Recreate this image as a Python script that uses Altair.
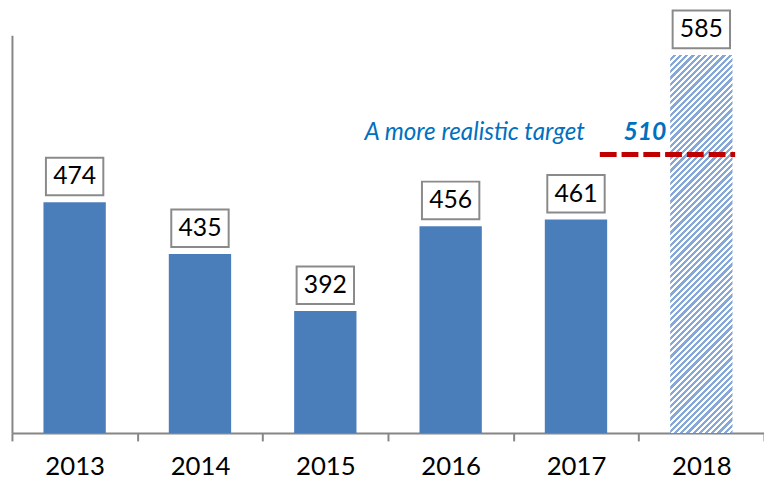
import math
import altair as alt
import pandas as pd

# ---- data ----
years = ["2013", "2014", "2015", "2016", "2017", "2018"]
values = [474, 435, 392, 456, 461, 585]
kinds = ["actual", "actual", "actual", "actual", "actual", "projected"]

target_value = 510
target_from = "2017"
target_to = "2018"
target_text = "A more realistic target"
target_label = "510"

df = pd.DataFrame({"year": years, "value": values, "kind": kinds})
tdf = pd.DataFrame({"start": [target_from], "end": [target_to], "target": [target_value]})

# ---- layout ----
W, H = 760, 402
Y_MIN, Y_MAX = 300, 600
BAR = 63
FONT = "Lato"

# hatch pattern for projected bar (diagonal stripes through a linear gradient)
proj_val = values[kinds.index("projected")]
bh = (proj_val - Y_MIN) / (Y_MAX - Y_MIN) * H
bw = BAR
t = (bw + bh) / (bw * bw + bh * bh)
x2g, y2g = t * bw, t * bh
n = max(1, round((bw + bh) / math.sqrt(2) / 4.4))
stops = []
for p in range(n):
    a = p / n
    b = (p + 0.5) / n
    c = (p + 1) / n
    stops += [
        alt.GradientStop(offset=a, color="#ffffff"),
        alt.GradientStop(offset=b, color="#ffffff"),
        alt.GradientStop(offset=b, color="#86a8d8"),
        alt.GradientStop(offset=c, color="#86a8d8"),
    ]
hatch = alt.LinearGradient(gradient="linear", stops=stops, x1=0, y1=0, x2=x2g, y2=y2g)

xscale = alt.Scale(domain=years, paddingInner=0, paddingOuter=0)
yscale = alt.Scale(domain=[Y_MIN, Y_MAX], zero=False, nice=False)

base = alt.Chart(df)

bars = base.transform_filter(alt.datum.kind == "actual").mark_bar(
    size=BAR, color="#4a7ebb"
).encode(
    x=alt.X("year:N", scale=xscale, title=None, sort=years),
    y=alt.Y("value:Q", scale=yscale, title=None),
    y2=alt.datum(Y_MIN),
)

proj = base.transform_filter(alt.datum.kind == "projected").mark_bar(
    size=BAR, color=hatch
).encode(
    x=alt.X("year:N", title=None, sort=years),
    y=alt.Y("value:Q", title=None),
    y2=alt.datum(Y_MIN),
)

boxes = base.mark_bar(
    size=58, fill="white", stroke="#8a8a8a", strokeWidth=2, yOffset=-7, y2Offset=-45
).encode(
    x=alt.X("year:N", title=None, sort=years),
    y=alt.Y("value:Q", title=None),
    y2=alt.Y2("value:Q"),
)

labels = base.mark_text(
    font=FONT, fontSize=25, color="black", baseline="middle", dy=-26
).encode(
    x=alt.X("year:N", title=None, sort=years),
    y=alt.Y("value:Q", title=None),
    text=alt.Text("value:Q"),
)

rule = alt.Chart(tdf).mark_rule(
    color="#c00000", strokeWidth=5, strokeDash=[17, 5]
).encode(
    x=alt.X("start:N", bandPosition=0.69, title=None),
    x2=alt.X2("end:N", bandPosition=0.77),
    y=alt.Y("target:Q", title=None),
)

ttext = alt.Chart(tdf).mark_text(
    font=FONT, fontSize=24.5, fontStyle="italic", color="#0070c0",
    align="right", baseline="alphabetic", dy=-15,
).encode(
    x=alt.X("start:N", bandPosition=0.57, title=None),
    y=alt.Y("target:Q", title=None),
    text=alt.value(target_text),
)

tval = alt.Chart(tdf).mark_text(
    font=FONT, fontSize=25, fontStyle="italic", fontWeight="bold", color="#0070c0",
    align="center", baseline="alphabetic", dy=-15,
).encode(
    x=alt.X("end:N", bandPosition=0.05, title=None),
    y=alt.Y("target:Q", title=None),
    text=alt.value(target_label),
)

chart = alt.layer(bars, proj, boxes, labels, rule, ttext, tval).properties(
    width=W, height=H,
    autosize=alt.AutoSizeParams(type="none"),
    padding={"left": 4, "top": 25, "right": 0, "bottom": 44},
).configure_view(stroke=None).configure_axisX(
    domainColor="#868686", domainWidth=2, tickColor="#868686", tickWidth=2,
    tickSize=8, tickBand="extent", labelFont=FONT, labelFontSize=26,
    labelColor="black", labelPadding=13, labelAngle=0, grid=False,
).configure_axisY(
    domainColor="#868686", domainWidth=2, ticks=False, labels=False, grid=False,
)

chart.save("out.html", embed_options={"renderer": "svg", "actions": False})
